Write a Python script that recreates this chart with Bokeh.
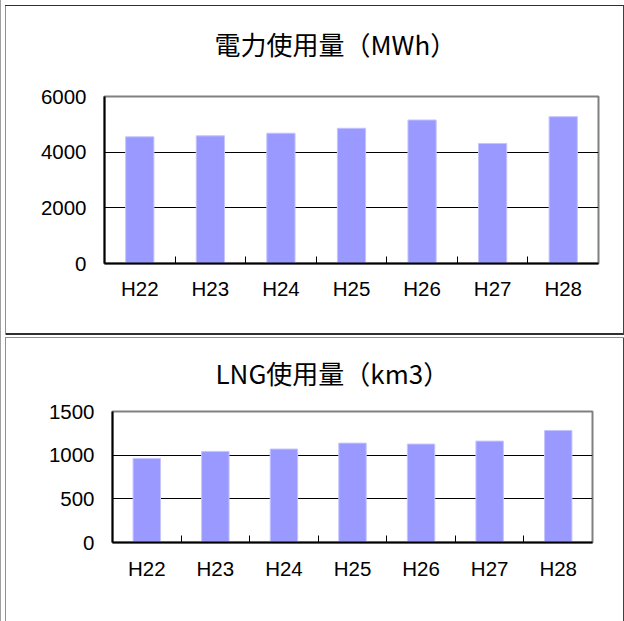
from bokeh.plotting import figure
from bokeh.models import Range1d, FixedTicker, ColumnDataSource, Title
from bokeh.embed import file_html
from bokeh.resources import INLINE

years = ["H22", "H23", "H24", "H25", "H26", "H27", "H28"]
power_mwh = [4550, 4586, 4681, 4859, 5156, 4313, 5275]
lng_km3 = [963, 1043, 1070, 1138, 1127, 1161, 1283]

title_power = "電力使用量（MWh）"
title_lng = "LNG使用量（km3）"
power_ticks = [0, 2000, 4000, 6000]
lng_ticks = [0, 500, 1000, 1500]

BAR = "#9999FF"
TICK_FONT = "Liberation Sans"
TITLE_FONT = "Noto Sans CJK JP"


def make_chart(title, values, yticks, height, mb_left, mb_right, mb_top, mb_bottom,
               gap_standoff, title_offset, x_standoff, shadow):
    xs = [i + 0.5 for i in range(len(years))]
    src = ColumnDataSource(dict(x=xs, top=values, year=years))
    p = figure(width=624, height=height, output_backend="svg", toolbar_location=None,
               title=None,
               x_range=Range1d(0, len(years)), y_range=Range1d(yticks[0], yticks[-1]),
               min_border_left=mb_left, min_border_right=mb_right,
               min_border_top=mb_top, min_border_bottom=mb_bottom,
               styles={"box-shadow": shadow, "background-color": "white"})
    p.vbar(x="x", top="top", width=0.4, bottom=0, source=src,
           fill_color=BAR, line_color="#c4c4ff", line_width=1)

    # spacer between frame and title, then the title itself
    p.add_layout(Title(text=" ", text_font_size="1px", standoff=gap_standoff), "above")
    p.add_layout(Title(text=title, text_font=TITLE_FONT, text_font_size="26px",
                       text_font_style="normal", text_color="black",
                       align="left", offset=title_offset, standoff=0), "above")

    p.outline_line_color = "#808080"
    p.outline_line_width = 2
    p.background_fill_color = "white"
    p.border_fill_color = None

    # y axis
    p.yaxis.ticker = FixedTicker(ticks=yticks)
    p.yaxis.axis_line_color = "black"
    p.yaxis.axis_line_width = 2
    p.yaxis.major_tick_line_color = None
    p.yaxis.major_tick_in = 0
    p.yaxis.major_tick_out = 0
    p.yaxis.minor_tick_line_color = None
    p.yaxis.major_label_standoff = 18
    p.yaxis.major_label_text_font = TICK_FONT
    p.yaxis.major_label_text_font_size = "20.5px"
    p.yaxis.major_label_text_color = "black"

    # x axis
    p.xaxis.ticker = FixedTicker(ticks=xs, minor_ticks=list(range(1, len(years))))
    p.xaxis.major_label_overrides = {x: y for x, y in zip(xs, years)}
    p.xaxis.axis_line_color = "black"
    p.xaxis.axis_line_width = 2
    p.xaxis.major_tick_line_color = None
    p.xaxis.minor_tick_line_color = "black"
    p.xaxis.minor_tick_in = 7
    p.xaxis.minor_tick_out = 0
    p.xaxis.major_label_standoff = x_standoff
    p.xaxis.major_label_text_font = TICK_FONT
    p.xaxis.major_label_text_font_size = "20.5px"
    p.xaxis.major_label_text_color = "black"

    p.xgrid.grid_line_color = None
    p.ygrid.ticker = FixedTicker(ticks=yticks[1:-1])
    p.ygrid.grid_line_color = "black"
    p.ygrid.grid_line_width = 1
    return p


shadow_top = ", ".join([
    "inset 1px 0 0 0 #a0a0a0",      # outer page line
    "inset 0 5px 0 0 white",
    "inset 5px 0 0 0 white",
    "inset 0 -2px 0 0 white",
    "inset 0 6px 0 0 #303030",      # box top
    "inset 6px 0 0 0 #909090",      # box left
    "inset -1px 0 0 0 #404040",     # box right
    "inset 0 -4px 0 0 #303030",     # box bottom
])
shadow_bottom = ", ".join([
    "inset 1px 0 0 0 #a0a0a0",
    "inset 5px 0 0 0 white",
    "inset 6px 0 0 0 #909090",
    "inset 0 1px 0 0 #909090",
    "inset -1px 0 0 0 #404040",
])

p1 = make_chart(title_power, power_mwh, power_ticks, 337, 104, 26, 96, 74,
                32, 110, 7, shadow_top)
p2 = make_chart(title_lng, lng_km3, lng_ticks, 284, 112, 32, 74, 79,
                18, 103, 8, shadow_bottom)

open("out.html", "w").write(file_html([p1, p2], INLINE))
